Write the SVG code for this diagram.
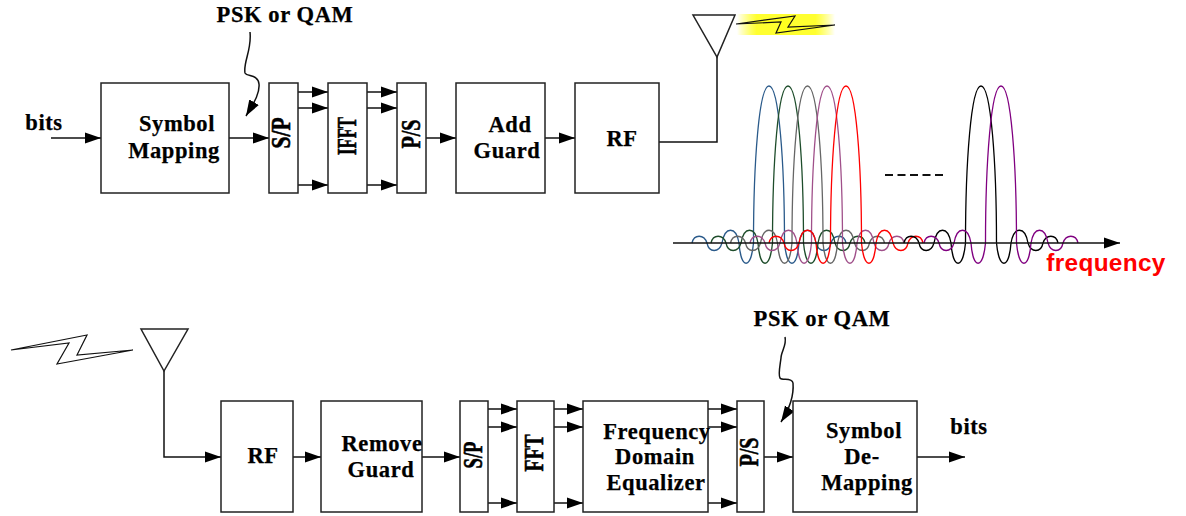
<svg xmlns="http://www.w3.org/2000/svg" width="1186" height="516" viewBox="0 0 1186 516">
<style>
text{font-family:"Liberation Serif","Times New Roman",serif;font-weight:bold;font-size:22.5px;fill:#000;stroke:#000;stroke-width:.25;text-anchor:middle;letter-spacing:.6px}
.r{font-size:27px;letter-spacing:0;stroke-width:.6}
.b{fill:#fff;stroke:#222;stroke-width:1.5}
.c line,.c path,.c polyline{fill:none;stroke:#111;stroke-width:1.5}
.f{font-family:"Liberation Sans",Arial,sans-serif;font-size:24.4px;fill:#f00;stroke:none;letter-spacing:.3px}
.w{fill:none;stroke-width:1.3}
.z{fill:#fff;stroke:#111;stroke-width:1.2}
</style>
<defs>
<marker id="a" markerUnits="userSpaceOnUse" markerWidth="16" markerHeight="12" refX="16" refY="6" orient="auto"><path d="M0 .5L16 6L0 11.5Z" fill="#000"/></marker>
<linearGradient id="g"><stop offset="0" stop-color="#ff0" stop-opacity="0"/><stop offset=".2" stop-color="#ffff30"/><stop offset=".8" stop-color="#ffff30"/><stop offset="1" stop-color="#ff0" stop-opacity="0"/></linearGradient>
<path id="s" d="M-77 0C-75 -9 -65 -9 -62 0C-60 10 -50 10 -47 0C-44 -17 -33 -17 -30 0C-28 27 -18 27 -15.500 0C-15.500 -80 -10 -157 0 -157C10 -157 15.500 -80 15.500 0C18 27 28 27 30 0C33 -17 44 -17 47 0C50 10 60 10 62 0C65 -9 75 -9 77 0"/>
</defs>
<g id="spectrum" class="w" transform="translate(0,243)">
<use href="#s" x="769" stroke="#2a5a8a"/>
<use href="#s" x="788" stroke="#1e4d2b"/>
<use href="#s" x="807.500" stroke="#666"/>
<use href="#s" x="827" stroke="#a0508a"/>
<use href="#s" x="846" stroke="#f00"/>
<use href="#s" x="981" stroke="#000"/>
<use href="#s" x="1001" stroke="#800080"/>
</g>
<g id="connectors" class="c">
<line x1="51" y1="138" x2="101" y2="138" marker-end="url(#a)"/>
<line x1="229" y1="138" x2="269" y2="138" marker-end="url(#a)"/>
<line x1="298" y1="92" x2="328" y2="92" marker-end="url(#a)"/>
<line x1="298" y1="108" x2="328" y2="108" marker-end="url(#a)"/>
<line x1="298" y1="185" x2="328" y2="185" marker-end="url(#a)"/>
<line x1="367" y1="92" x2="397" y2="92" marker-end="url(#a)"/>
<line x1="367" y1="108" x2="397" y2="108" marker-end="url(#a)"/>
<line x1="367" y1="185" x2="397" y2="185" marker-end="url(#a)"/>
<line x1="426" y1="138" x2="456" y2="138" marker-end="url(#a)"/>
<line x1="545" y1="138" x2="575" y2="138" marker-end="url(#a)"/>
<polyline points="659,142 717,142 717,57"/>
<path d="M250 32C252 50 243 62 245 73C247 77 258 74 259 84C260 94 253 104 246 116" marker-end="url(#a)"/>
<line x1="673" y1="243" x2="1120" y2="243" marker-end="url(#a)"/>
<polyline points="164,371 164,457 221,457" marker-end="url(#a)"/>
<line x1="293" y1="457" x2="321" y2="457" marker-end="url(#a)"/>
<line x1="422" y1="457" x2="460" y2="457" marker-end="url(#a)"/>
<line x1="488" y1="409" x2="517" y2="409" marker-end="url(#a)"/>
<line x1="488" y1="427" x2="517" y2="427" marker-end="url(#a)"/>
<line x1="488" y1="503" x2="517" y2="503" marker-end="url(#a)"/>
<line x1="554" y1="409" x2="583" y2="409" marker-end="url(#a)"/>
<line x1="554" y1="427" x2="583" y2="427" marker-end="url(#a)"/>
<line x1="554" y1="503" x2="583" y2="503" marker-end="url(#a)"/>
<line x1="708" y1="409" x2="737" y2="409" marker-end="url(#a)"/>
<line x1="708" y1="427" x2="737" y2="427" marker-end="url(#a)"/>
<line x1="708" y1="503" x2="737" y2="503" marker-end="url(#a)"/>
<line x1="764" y1="457" x2="793" y2="457" marker-end="url(#a)"/>
<line x1="917" y1="457" x2="965" y2="457" marker-end="url(#a)"/>
<path d="M785 337C787 345 781 352 781 358C780 366 778 375 780 378C782 381 792 377 793 383C794 395 790 408 781 422" marker-end="url(#a)"/>
</g>
<g id="symbol-mapping"><rect class="b" x="101" y="83" width="128" height="110"/><text x="177" y="131">Symbol</text><text x="174" y="158">Mapping</text></g>
<g id="sp-tx"><rect class="b" x="269" y="83" width="29" height="110"/><text class="r" textLength="31" lengthAdjust="spacingAndGlyphs" transform="translate(290,133) rotate(-90)">S/P</text></g>
<g id="ifft"><rect class="b" x="328" y="83" width="39" height="110"/><text class="r" textLength="38" lengthAdjust="spacingAndGlyphs" transform="translate(356,136) rotate(-90)">IFFT</text></g>
<g id="ps-tx"><rect class="b" x="397" y="83" width="29" height="110"/><text class="r" textLength="29" lengthAdjust="spacingAndGlyphs" transform="translate(420,134) rotate(-90)">P/S</text></g>
<g id="add-guard"><rect class="b" x="456" y="83" width="89" height="110"/><text x="510" y="132">Add</text><text x="507" y="158">Guard</text></g>
<g id="rf-tx"><rect class="b" x="575" y="83" width="84" height="110"/><text x="622" y="146">RF</text></g>
<g id="antenna-tx"><path d="M693 15H735L717 57Z" fill="none" stroke="#222" stroke-width="1.5"/></g>
<g id="wave-tx"><rect x="737" y="14" width="98" height="21" fill="url(#g)"/><polygon points="736,24 795,16 788,27 835,25 776,33 781,22" fill="#ffff20" stroke="#111" stroke-width="1.2"/></g>
<g id="wave-rx"><polygon class="z" points="11,350 87,335 77,355 133,350 57,364 69,343"/></g>
<g id="antenna-rx"><path d="M141 329H188L164 371Z" fill="none" stroke="#222" stroke-width="1.5"/></g>
<g id="rf-rx"><rect class="b" x="221" y="401" width="72" height="111"/><text x="263" y="463">RF</text></g>
<g id="remove-guard"><rect class="b" x="321" y="401" width="101" height="111"/><text x="382" y="451">Remove</text><text x="381" y="477">Guard</text></g>
<g id="sp-rx"><rect class="b" x="460" y="401" width="28" height="111"/><text class="r" textLength="27" lengthAdjust="spacingAndGlyphs" transform="translate(482,455) rotate(-90)">S/P</text></g>
<g id="fft"><rect class="b" x="517" y="401" width="37" height="111"/><text class="r" textLength="37" lengthAdjust="spacingAndGlyphs" transform="translate(543,453) rotate(-90)">FFT</text></g>
<g id="fde"><rect class="b" x="583" y="401" width="125" height="111"/><text x="657" y="439">Frequency</text><text x="655" y="464">Domain</text><text x="656" y="490">Equalizer</text></g>
<g id="ps-rx"><rect class="b" x="737" y="401" width="27" height="111"/><text class="r" textLength="29" lengthAdjust="spacingAndGlyphs" transform="translate(758,452) rotate(-90)">P/S</text></g>
<g id="symbol-demapping"><rect class="b" x="793" y="401" width="124" height="111"/><text x="864" y="438">Symbol</text><text x="862" y="464">De-</text><text x="867" y="490">Mapping</text></g>
<g id="labels">
<text x="44" y="130">bits</text>
<text x="285" y="22">PSK or QAM</text>
<text x="822" y="326">PSK or QAM</text>
<text x="969" y="434">bits</text>
<text class="f" x="1106" y="271">frequency</text>
<line x1="885" y1="175" x2="945" y2="175" stroke="#111" stroke-width="2" stroke-dasharray="8 4.500"/>
</g>
</svg>
